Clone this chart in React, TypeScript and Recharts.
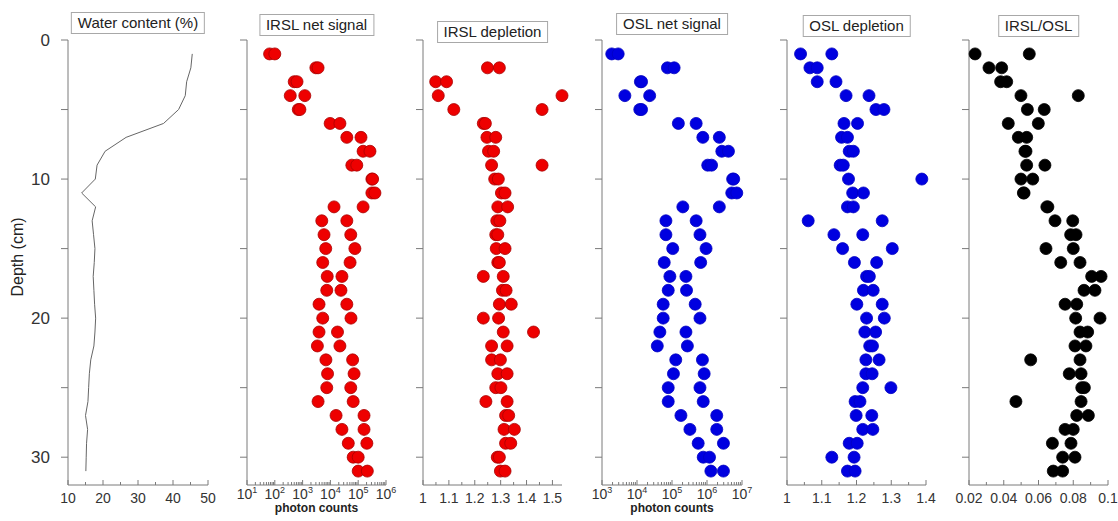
import React from "react";
import { Scatter, ScatterChart, XAxis, YAxis } from "recharts";

const FONT = '"Liberation Sans", Arial, Helvetica, sans-serif';
const W = 1118;
const H = 521;
const PLOT_TOP = 40;
const PLOT_BOTTOM = 485;
const AXIS_W = 30;
const AXIS_H = 30;
const AXIS = "#7a7a7a";
const TEXT = "#333";

// depth of every sample row (cm)
const depths = [1, 2, 3, 4, 5, 6, 7, 8, 9, 10, 11, 12, 13, 14, 15, 16, 17, 18, 19, 20, 21, 22, 23, 24, 25, 26, 27, 28, 29, 30, 31];
const depthTicks = [0, 5, 10, 15, 20, 25, 30];
const depthLabels = [0, 10, 20, 30];

const waterContent = [45.5, 45.1, 43.9, 43.5, 41.6, 37.3, 26.6, 20.6, 18.3, 17.8, 13.9, 17.9, 16.9, 17.3, 17.7, 17.5, 17.2, 17.4, 17.6, 17.9, 17.7, 17.4, 16.5, 16.1, 15.9, 15.7, 15.0, 15.6, 15.3, 15.2, 15.1];

const irslNetA = [65, 3000, 500, 360, 700, 9800, 39000, 150000, 59000, 310000, 310000, 13500, 4900, 5900, 6800, 5300, 7700, 7400, 3900, 5300, 3900, 3400, 6900, 7900, 7400, 3600, 16000, 26000, 44000, 66000, 100000];
const irslNetB = [100, 3600, 630, 1200, 800, 22000, 126000, 265000, 89000, 330000, 400000, 150000, 39000, 54000, 76000, 51000, 26000, 24000, 39000, 55000, 18000, 22000, 63000, 71000, 54000, 66000, 162000, 162000, 205000, 100000, 213000];

const irslDepA = [null, 1.249, 1.049, 1.059, 1.119, 1.233, 1.247, 1.253, 1.265, 1.277, 1.303, 1.289, 1.285, 1.281, 1.283, 1.289, 1.233, 1.307, 1.295, 1.233, 1.31, 1.265, 1.265, 1.289, 1.281, 1.243, 1.319, 1.313, 1.319, 1.287, 1.299];
const irslDepB = [null, 1.295, 1.091, 1.537, 1.46, 1.241, 1.281, 1.273, 1.46, 1.291, 1.317, 1.327, 1.297, 1.289, 1.317, 1.295, 1.31, 1.321, 1.341, 1.292, 1.427, 1.325, 1.299, 1.325, 1.301, 1.325, 1.331, 1.353, 1.339, 1.295, 1.317];

const oslNetA = [1900, 74000, 12500, 4500, 12000, 152000, 760000, 2650000, 1050000, 5400000, 5100000, 204000, 67000, 67000, 105000, 60000, 87000, 78000, 56000, 56000, 45000, 38000, 128000, 110000, 78000, 78000, 180000, 325000, 560000, 780000, 1290000];
const oslNetB = [2900, 115000, 13500, 23000, 13500, 490000, 2250000, 4100000, 1350000, 5800000, 7100000, 2250000, 490000, 630000, 940000, 660000, 250000, 260000, 460000, 630000, 250000, 275000, 740000, 830000, 630000, 780000, 1900000, 1900000, 2950000, 1180000, 2950000];

const oslDepA = [1.039, 1.066, 1.087, 1.17, 1.256, 1.164, 1.157, 1.179, 1.153, 1.177, 1.189, 1.174, 1.061, 1.135, 1.16, 1.194, 1.229, 1.22, 1.201, 1.229, 1.224, 1.238, 1.227, 1.227, 1.218, 1.196, 1.199, 1.218, 1.179, 1.129, 1.174];
const oslDepB = [1.129, 1.087, 1.141, 1.236, 1.279, 1.203, 1.174, 1.191, 1.162, 1.388, 1.22, 1.191, 1.274, 1.218, 1.303, 1.258, 1.237, 1.248, 1.274, 1.28, 1.255, 1.246, 1.265, 1.245, 1.299, 1.21, 1.244, 1.247, 1.202, 1.193, 1.196];

const ratioA = [0.0235, 0.0315, 0.0382, 0.0499, 0.0536, 0.0426, 0.0484, 0.0522, 0.0532, 0.0499, 0.0513, 0.0648, 0.0695, 0.0785, 0.0643, 0.0728, 0.0906, 0.0862, 0.0753, 0.0814, 0.0839, 0.081, 0.0555, 0.0777, 0.0849, 0.047, 0.082, 0.0753, 0.068, 0.0739, 0.0685];
const ratioB = [0.0547, 0.0388, 0.0417, 0.0829, 0.0633, 0.0599, 0.0532, 0.0528, 0.0637, 0.0567, 0.0517, 0.0654, 0.0797, 0.0816, 0.08, 0.0839, 0.096, 0.0925, 0.082, 0.0954, 0.0883, 0.0873, 0.0839, 0.0845, 0.0864, 0.0845, 0.0887, 0.08, 0.0787, 0.081, 0.0739];

// x axis ticks
const waterTicks = [10, 15, 20, 25, 30, 35, 40, 45, 50];
const waterLabels = [10, 20, 30, 40, 50];
const irslDepTicks = [1, 1.05, 1.1, 1.15, 1.2, 1.25, 1.3, 1.35, 1.4, 1.45, 1.5];
const irslDepLabels = [1, 1.1, 1.2, 1.3, 1.4, 1.5];
const oslDepTicks = [1, 1.05, 1.1, 1.15, 1.2, 1.25, 1.3, 1.35, 1.4];
const oslDepLabels = [1, 1.1, 1.2, 1.3, 1.4];
const ratioTicks = [0.02, 0.03, 0.04, 0.05, 0.06, 0.07, 0.08, 0.09, 0.1];
const ratioLabels = [0.02, 0.04, 0.06, 0.08, 0.1];
const irslNetDecades = [10, 100, 1000, 10000, 100000, 1000000];
const oslNetDecades = [1000, 10000, 100000, 1000000, 10000000];

const titles = ["Water content (%)", "IRSL net signal", "IRSL depletion", "OSL net signal", "OSL depletion", "IRSL/OSL"];

// plot area of each panel (x in px) and title box top
const panels = [
  { left: 68, right: 208, titleTop: 12 },
  { left: 247, right: 386, titleTop: 14 },
  { left: 423, right: 562, titleTop: 21 },
  { left: 602, right: 742, titleTop: 13 },
  { left: 787, right: 926, titleTop: 15 },
  { left: 969, right: 1108, titleTop: 15 },
];

const logTicks = (decades: number[]) =>
  decades.flatMap((d, i) =>
    i === decades.length - 1 ? [d] : [1, 2, 3, 4, 5, 6, 7, 8, 9].map((m) => d * m)
  );

const pairs = (a: (number | null)[], b: (number | null)[]) =>
  depths
    .flatMap((d, i) => [
      { d, v: a[i] },
      { d, v: b[i] },
    ])
    .filter((p) => p.v != null);

function XTick({ x, y, payload, labels, log }: any) {
  const v = payload.value as number;
  const major = log
    ? Math.abs(Math.log10(v) - Math.round(Math.log10(v))) < 1e-6
    : labels.some((l: number) => Math.abs(l - v) < 1e-9);
  return (
    <g>
      <line x1={x} x2={x} y1={y} y2={y - (major ? 5 : 3)} stroke={AXIS} />
      {major &&
        (log ? (
          <text x={x} y={y + 14} textAnchor="middle" fontFamily={FONT} fontSize={14} fill={TEXT}>
            10
            <tspan dy={-6} fontSize={9}>
              {Math.round(Math.log10(v))}
            </tspan>
          </text>
        ) : (
          <text x={x} y={y + 18} textAnchor="middle" fontFamily={FONT} fontSize={14} fill={TEXT}>
            {String(v)}
          </text>
        ))}
    </g>
  );
}

function YTick({ x, y, payload, show }: any) {
  const v = payload.value as number;
  return (
    <g>
      <line x1={x} x2={x - 7} y1={y} y2={y} stroke={AXIS} />
      {show && depthLabels.includes(v) && (
        <text x={x - 18} y={y} dy="0.35em" textAnchor="end" fontFamily={FONT} fontSize={17} fill={TEXT}>
          {v}
        </text>
      )}
    </g>
  );
}

const dot = (fill: string, stroke: string) => (p: any) =>
  <circle cx={p.cx} cy={p.cy} r={6} fill={fill} stroke={stroke} strokeWidth={0.8} />;

function DepthPanel(p: {
  idx: number;
  domain: [number, number];
  ticks: number[];
  labels?: number[];
  log?: boolean;
  depthText?: boolean;
  children: React.ReactNode;
}) {
  const pan = panels[p.idx];
  return (
    <div style={{ position: "absolute", left: 0, top: 0 }}>
      <ScatterChart
        width={W}
        height={H}
        margin={{
          top: PLOT_TOP,
          bottom: H - PLOT_BOTTOM - AXIS_H,
          left: pan.left - AXIS_W,
          right: W - pan.right,
        }}
      >
        <XAxis
          type="number"
          dataKey="v"
          scale={p.log ? "log" : "linear"}
          domain={[() => p.domain[0], () => p.domain[1]]}
          ticks={p.ticks}
          interval={0}
          height={AXIS_H}
          tickSize={0}
          tickMargin={0}
          tickLine={false}
          axisLine={{ stroke: AXIS }}
          tick={(t: any) => <XTick {...t} labels={p.labels ?? []} log={p.log} />}
        />
        <YAxis
          type="number"
          dataKey="d"
          reversed
          domain={[0, 32]}
          ticks={depthTicks}
          interval={0}
          width={AXIS_W}
          tickSize={0}
          tickMargin={0}
          tickLine={false}
          axisLine={{ stroke: AXIS }}
          tick={(t: any) => <YTick {...t} show={p.depthText} />}
        />
        {p.children}
      </ScatterChart>
    </div>
  );
}

export default function App() {
  const waterPts = depths.map((d, i) => ({ d, v: waterContent[i] }));
  return (
    <div style={{ position: "absolute", left: 0, top: 0, width: W, height: H, background: "#fff", fontFamily: FONT }}>
      <DepthPanel idx={0} domain={[10, 50]} ticks={waterTicks} labels={waterLabels} depthText>
        <Scatter
          data={waterPts}
          line={{ stroke: "#666", strokeWidth: 1 }}
          lineType="joint"
          shape={() => <g />}
          isAnimationActive={false}
        />
      </DepthPanel>
      <DepthPanel idx={1} domain={[10, 1000000]} ticks={logTicks(irslNetDecades)} log>
        <Scatter data={pairs(irslNetA, irslNetB)} shape={dot("#ee0000", "#a80000")} isAnimationActive={false} />
      </DepthPanel>
      <DepthPanel idx={2} domain={[1, 1.5]} ticks={irslDepTicks} labels={irslDepLabels}>
        <Scatter data={pairs(irslDepA, irslDepB)} shape={dot("#ee0000", "#a80000")} isAnimationActive={false} />
      </DepthPanel>
      <DepthPanel idx={3} domain={[1000, 10000000]} ticks={logTicks(oslNetDecades)} log>
        <Scatter data={pairs(oslNetA, oslNetB)} shape={dot("#0000e0", "#0000c0")} isAnimationActive={false} />
      </DepthPanel>
      <DepthPanel idx={4} domain={[1, 1.4]} ticks={oslDepTicks} labels={oslDepLabels}>
        <Scatter data={pairs(oslDepA, oslDepB)} shape={dot("#0000e0", "#0000c0")} isAnimationActive={false} />
      </DepthPanel>
      <DepthPanel idx={5} domain={[0.02, 0.1]} ticks={ratioTicks} labels={ratioLabels}>
        <Scatter data={pairs(ratioA, ratioB)} shape={dot("#000", "#000")} isAnimationActive={false} />
      </DepthPanel>

      {titles.map((t, i) => (
        <div
          key={t}
          style={{
            position: "absolute",
            left: (panels[i].left + panels[i].right) / 2,
            top: panels[i].titleTop,
            transform: "translateX(-50%)",
            border: "1px solid #a8a8a8",
            background: "#fff",
            padding: "1px 6px",
            fontSize: 15,
            lineHeight: "18px",
            color: "#222",
            whiteSpace: "nowrap",
          }}
        >
          {t}
        </div>
      ))}

      {[1, 3].map((i) => (
        <div
          key={i}
          style={{
            position: "absolute",
            left: (panels[i].left + panels[i].right) / 2,
            top: 501,
            transform: "translateX(-50%)",
            fontSize: 12,
            fontWeight: "bold",
            color: "#222",
            whiteSpace: "nowrap",
          }}
        >
          photon counts
        </div>
      ))}

      <div
        style={{
          position: "absolute",
          left: 18,
          top: 257,
          transform: "translate(-50%, -50%) rotate(-90deg)",
          fontSize: 16,
          color: "#222",
          whiteSpace: "nowrap",
        }}
      >
        Depth (cm)
      </div>
    </div>
  );
}
